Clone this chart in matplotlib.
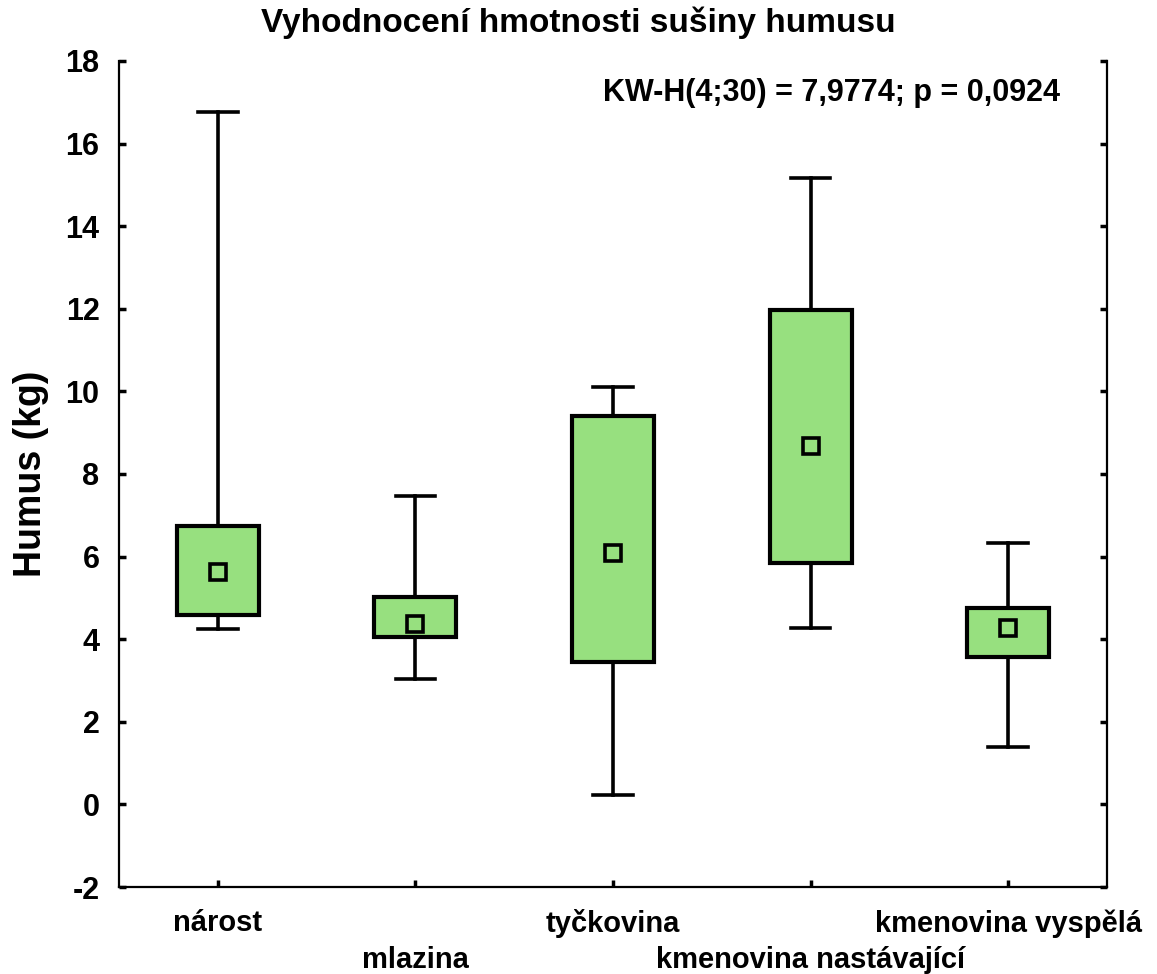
import numpy as np
import matplotlib
matplotlib.use("Agg")
import matplotlib.pyplot as plt
import matplotlib.transforms as mtransforms

plt.rcParams['font.family'] = ['Liberation Sans', 'DejaVu Sans']
plt.rcParams['font.weight'] = 'bold'
plt.rcParams['axes.unicode_minus'] = False

groups = ["nárost", "mlazina", "tyčkovina", "kmenovina nastávající", "kmenovina vyspělá"]
w_min = [4.25, 3.03, 0.23, 4.26, 1.40]
q25 = [4.59, 4.06, 3.46, 5.84, 3.58]
median = [5.63, 4.36, 6.09, 8.68, 4.26]
q75 = [6.74, 5.03, 9.40, 11.97, 4.75]
w_max = [16.77, 7.47, 10.11, 15.16, 6.34]

yticks = [-2, 0, 2, 4, 6, 8, 10, 12, 14, 16, 18]

fig = plt.figure(figsize=(11.57, 9.74), dpi=100)
ax = fig.add_axes([0.1029, 0.0893, 0.8539, 0.8481])

stats = []
for i in range(len(groups)):
    stats.append(dict(label=groups[i], whislo=w_min[i], q1=q25[i], med=median[i],
                      q3=q75[i], whishi=w_max[i], fliers=[]))

pos = np.arange(1, len(groups) + 1)
ax.bxp(stats, positions=pos, widths=0.415, capwidths=0.2, patch_artist=True,
       showfliers=False,
       boxprops=dict(facecolor='#97e07f', edgecolor='black', linewidth=3),
       whiskerprops=dict(color='black', linewidth=2.6),
       capprops=dict(color='black', linewidth=2.6),
       medianprops=dict(linewidth=0))
ax.plot(pos, median, 's', ms=11, mfc='#97e07f', mec='black', mew=2.6, zorder=5)

ax.set_xlim(0.5, 5.5)
ax.set_ylim(-2, 18)
ax.set_yticks(yticks)
ax.set_xticks(pos)
ax.set_xticklabels(groups)

ax.spines['top'].set_visible(False)
for s in ['left', 'right', 'bottom']:
    ax.spines[s].set_linewidth(1.6)
ax.tick_params(axis='y', direction='in', length=5, width=2.5, labelsize=22,
               right=True, pad=14)
ax.tick_params(axis='x', direction='in', length=5, width=2.5, labelsize=21, pad=16)
for lab in ax.get_xticklabels() + ax.get_yticklabels():
    lab.set_fontweight('bold')

# every second category label sits one row lower
shift = mtransforms.ScaledTranslation(0, -37 / 100, fig.dpi_scale_trans)
for i, lab in enumerate(ax.get_xticklabels()):
    if i % 2 == 1:
        lab.set_transform(lab.get_transform() + shift)

ax.set_ylabel("Humus (kg)", fontsize=27, fontweight='bold', labelpad=12)
ax.text(0.952, 0.961, "KW-H(4;30) = 7,9774; p = 0,0924", transform=ax.transAxes,
        ha='right', va='center', fontsize=22, fontweight='bold')
fig.text(0.5, 0.977, "Vyhodnocení hmotnosti sušiny humusu", ha='center', va='center',
         fontsize=24, fontweight='bold')

fig.savefig("out.png", dpi=100)
